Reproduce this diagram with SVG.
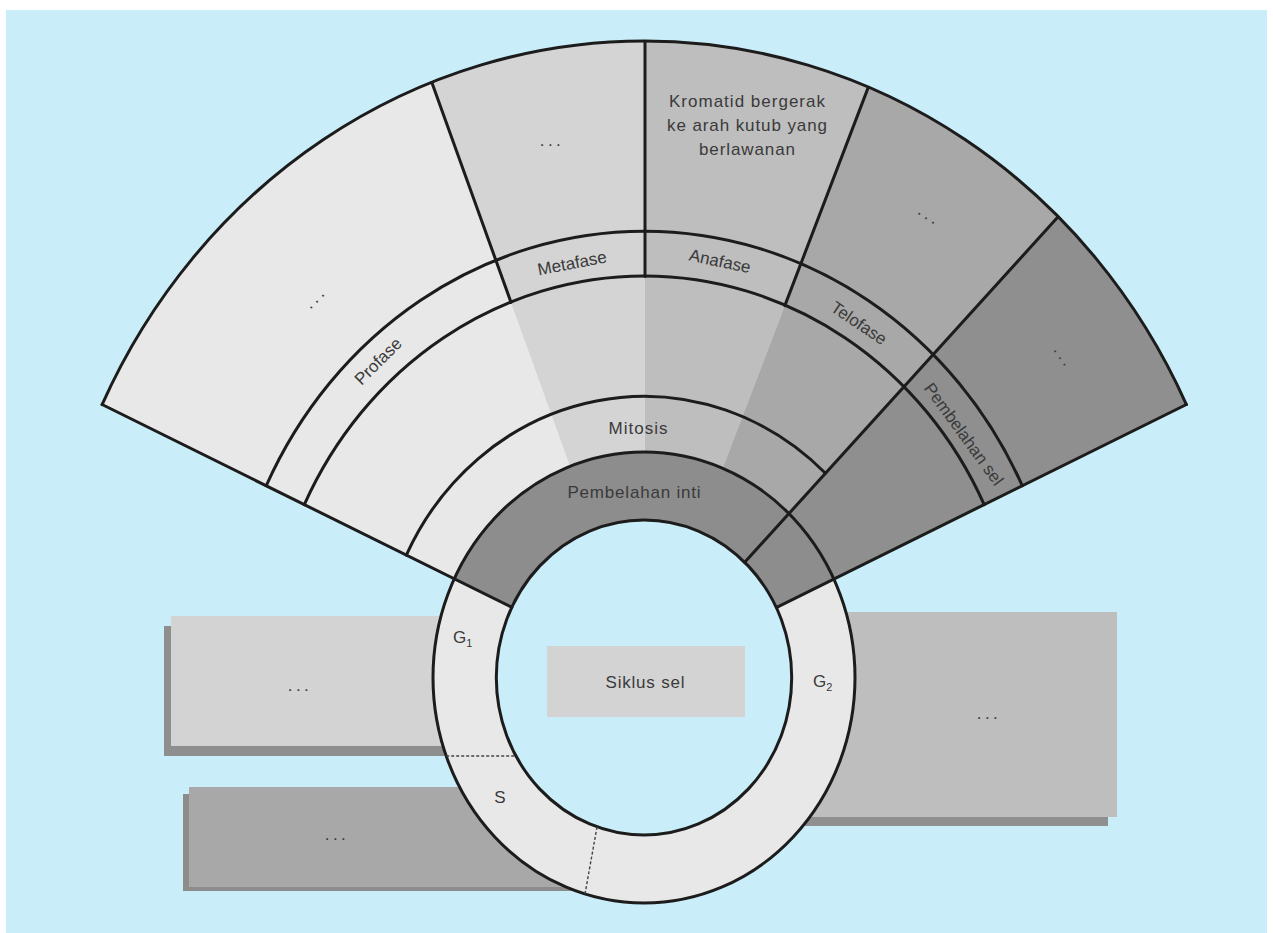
<svg xmlns="http://www.w3.org/2000/svg" width="1273" height="933" viewBox="0 0 1273 933">
<style>
.ln{fill:none;stroke:#1c1c1c;stroke-width:3;stroke-linejoin:round;stroke-linecap:round}
.t{font-family:"Liberation Sans",Arial,sans-serif;font-size:17px;fill:#3a3a3a;text-anchor:middle}
.ts{font-family:"Liberation Sans",Arial,sans-serif;font-size:17px;fill:#3a3a3a}
.dots{font-family:"Liberation Sans",Arial,sans-serif;font-size:17px;fill:#3a3a3a;text-anchor:middle;letter-spacing:3.5px}
.dash{fill:none;stroke:#444;stroke-width:1.4;stroke-dasharray:3 2}
</style>
<rect x="0" y="0" width="1273" height="933" fill="#ffffff"/>
<rect x="6" y="10" width="1261" height="923" fill="#c9edf9"/>

<g id="box-g1">
<rect x="164" y="626" width="306" height="130" fill="#8e8e8e"/>
<rect x="171" y="616" width="299" height="130" fill="#d3d3d3"/>
<text class="dots" x="300" y="691">...</text>
</g>
<g id="box-s">
<rect x="183" y="794" width="440" height="97" fill="#8c8c8c"/>
<rect x="189" y="787" width="440" height="100" fill="#a8a8a8"/>
<text class="dots" x="337" y="840">...</text>
</g>
<g id="box-g2">
<rect x="751" y="621" width="357" height="205" fill="#8f8f8f"/>
<rect x="760" y="612" width="357" height="205" fill="#bebebe"/>
<text class="dots" x="989" y="719">...</text>
</g>

<g id="ring-base">
<ellipse cx="644" cy="677.5" rx="211" ry="225.5" fill="#e8e8e8"/>
</g>

<g id="sector-profase">
<path d="M454.27,578.84 L102.11,404.52 A600 636 0 0 1 431.85,82.57 L570.1,466.3 A211 225.5 0 0 0 454.27,578.84 Z" fill="#e8e8e8"/>
</g>
<g id="sector-metafase">
<path d="M570.1,466.3 L431.85,82.57 A600 636 0 0 1 645,41.5 L645,452 A211 225.5 0 0 0 570.1,466.3 Z" fill="#d4d4d4"/>
</g>
<g id="sector-anafase">
<path d="M645,452 L645,41.5 A600 636 0 0 1 868.16,87.59 L722.67,468.26 A211 225.5 0 0 0 645,452 Z" fill="#bebebe"/>
</g>
<g id="sector-telofase">
<path d="M722.67,468.26 L868.16,87.59 A600 636 0 0 1 1057.87,217.04 L788.9,513.6 A211 225.5 0 0 0 722.67,468.26 Z" fill="#a8a8a8"/>
</g>
<g id="sector-pembelahan-sel">
<path d="M788.9,513.6 L1057.87,217.04 A600 636 0 0 1 1186.39,404.52 L834.23,578.84 A211 225.5 0 0 0 788.9,513.6 Z" fill="#8f8f8f"/>
</g>
<g id="sector-pembelahan-inti">
<path d="M454.27,578.84 A211 225.5 0 0 1 834.23,578.84 L776.72,607.3 A147.7 157.5 0 0 0 511.78,607.3 Z" fill="#8d8d8d"/>
</g>
<g id="inner-disc">
<ellipse cx="644" cy="677.5" rx="147.7" ry="157.5" fill="#c9edf9"/>
</g>
<g id="siklus-sel">
<rect x="547" y="646" width="198" height="71" fill="#d3d3d3"/>
<text class="t" x="645" y="688" textLength="79" lengthAdjust="spacing">Siklus sel</text>
</g>

<g id="connectors">
<path class="ln" d="M102.11,404.52 A600 636 0 0 1 1186.39,404.52"/>
<path class="ln" d="M102.11,404.52 L511.78,607.3"/>
<path class="ln" d="M1186.39,404.52 L776.72,607.3"/>
<path class="ln" d="M266.21,485.75 A418.5 445.7 0 0 1 1022.29,485.75"/>
<path class="ln" d="M304.3,504.6 A376.5 401 0 0 1 984.2,504.6"/>
<path class="ln" d="M406.32,555.1 A264 281.2 0 0 1 825.47,473.27"/>
<path class="ln" d="M431.85,82.57 L511.05,302.4"/>
<path class="ln" d="M645,41.5 L645,276.5"/>
<path class="ln" d="M868.16,87.59 L784.84,305.61"/>
<path class="ln" d="M1057.87,217.04 L744.72,562.31"/>
<ellipse class="ln" cx="644" cy="677.5" rx="211" ry="225.5"/>
<ellipse class="ln" cx="644" cy="677.5" rx="147.7" ry="157.5"/>
<path class="dash" d="M446.2,756 L515.9,756"/>
<path class="dash" d="M597,827 L585,894"/>
</g>

<g id="labels">
<text class="dots" transform="translate(319,301) rotate(-45)">...</text>
<text class="dots" x="552" y="146">...</text>
<text class="t" x="747" y="107" textLength="156" lengthAdjust="spacing">Kromatid bergerak</text>
<text class="t" x="747" y="131" textLength="160" lengthAdjust="spacing">ke arah kutub yang</text>
<text class="t" x="747" y="155" textLength="96" lengthAdjust="spacing">berlawanan</text>
<text class="dots" transform="translate(927,220) rotate(33)">...</text>
<text class="dots" transform="translate(1060,360) rotate(55)">...</text>
<text class="t" transform="translate(378,361) rotate(-45)" dy="0.35em">Profase</text>
<text class="t" transform="translate(572,263) rotate(-11)" dy="0.35em">Metafase</text>
<text class="t" transform="translate(720,261) rotate(12)" dy="0.35em">Anafase</text>
<text class="t" transform="translate(859,323) rotate(34)" dy="0.35em">Telofase</text>
<text class="t" transform="translate(964,434) rotate(54)" dy="0.35em">Pembelahan sel</text>
<text class="t" x="638" y="434" textLength="59" lengthAdjust="spacing">Mitosis</text>
<text class="t" x="634" y="498" textLength="133" lengthAdjust="spacing">Pembelahan inti</text>
<text class="ts" x="453" y="643">G<tspan font-size="11" dy="4">1</tspan></text>
<text class="ts" x="813" y="687">G<tspan font-size="11" dy="4">2</tspan></text>
<text class="t" x="500" y="803">S</text>
</g>
</svg>
